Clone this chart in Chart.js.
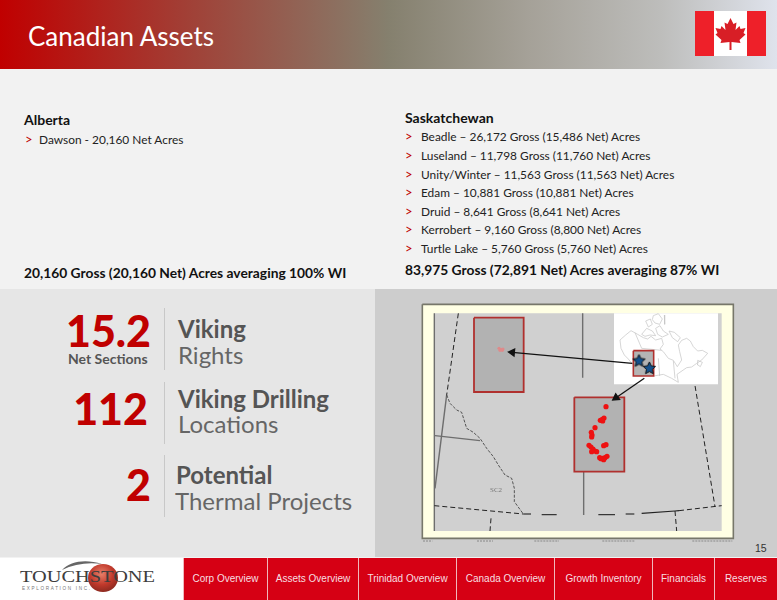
<!DOCTYPE html>
<html>
<head>
<meta charset="utf-8">
<title>Canadian Assets</title>
<script src="https://cdn.jsdelivr.net/npm/chart.js@4/dist/chart.umd.min.js"></script>
<style>
  html, body { margin: 0; padding: 0; }
  body { width: 777px; height: 600px; position: relative; overflow: hidden; background: #f2f2f2; font-family: Lato, sans-serif; }
  .t { position: absolute; white-space: nowrap; line-height: 1; }
  .box { position: absolute; }
  .head { left: 0; top: 0; width: 777px; height: 69px; background: linear-gradient(90deg, #c00000 0%, #a04238 25%, #85806e 50%, #a5a198 68%, #bdbdbb 85%, #dfe3ec 100%); }
  .b { font-weight: 700; color: #111; }
  .row { font-size: 11.9px; color: #222; }
  .gt { font-size: 13px; color: #c00000; }
  .big { font-weight: 900; color: #c00000; font-size: 43px; }
  .lab1 { font-weight: 700; color: #555; font-size: 24px; }
  .lab2 { font-weight: 400; color: #666; font-size: 24px; }
  .nav { position: absolute; top: 558px; height: 42px; background: #d60014; color: #f6dfe0; font: 10px/42px "Liberation Sans", sans-serif; text-align: center; border-left: 1px solid #f0b8bc; box-sizing: border-box; }
  #map { position: absolute; left: 415px; top: 295px; }
</style>
</head>
<body>
<div class="box head"></div>
<div class="t" style="left:28px;top:23px;font-size:26px;color:#fff;">Canadian Assets</div>
<svg class="box" style="left:695px;top:11px" width="71" height="45" viewBox="0 0 71 45">
  <rect width="71" height="45" fill="#fff"/>
  <rect width="19" height="45" fill="#ee2029"/>
  <rect x="52" width="19" height="45" fill="#ee2029"/>
  <g transform="translate(20.5,7)" fill="#d81e26"><polygon points="15,0 18,6 21,4.5 20,12 24,8 25,11 30,10 28,15 30,16.5 24,22 25,25 16,24 16,32 14,32 14,24 5,25 6,22 0,16.5 2,15 0,10 5,11 6,8 10,12 9,4.5 12,6"/></g>
</svg>

<div class="t b" style="left:24px;top:113px;font-size:14px;">Alberta</div>
<div class="t b" style="left:405px;top:111px;font-size:14px;">Saskatchewan</div>
<div id="rows"></div>
<div class="t b" style="left:24px;top:266px;font-size:13.8px;">20,160 Gross (20,160 Net) Acres averaging 100% WI</div>
<div class="t b" style="left:405px;top:263px;font-size:13.8px;">83,975 Gross (72,891 Net) Acres averaging 87% WI</div>

<div class="box" style="left:0;top:289px;width:375px;height:268px;background:#e6e6e6;"></div>
<div class="box" style="left:375px;top:289px;width:402px;height:268px;background:#cdcdcd;"></div>

<div class="box" style="left:164px;top:308px;width:1px;height:62px;background:#c8c8c8;"></div>
<div class="box" style="left:164px;top:382px;width:1px;height:62px;background:#c8c8c8;"></div>
<div class="box" style="left:164px;top:455px;width:1px;height:62px;background:#c8c8c8;"></div>

<div class="t big" style="right:626px;top:309px;">15.2</div>
<div class="t" style="left:68px;top:352px;font-size:14px;font-weight:700;color:#555;">Net Sections</div>
<div class="t big" style="right:629px;top:387px;">112</div>
<div class="t big" style="right:626px;top:463px;">2</div>
<div class="t lab1" style="left:178px;top:317px;">Viking</div>
<div class="t lab2" style="left:178px;top:343px;">Rights</div>
<div class="t lab1" style="left:178px;top:387px;">Viking Drilling</div>
<div class="t lab2" style="left:178px;top:412px;">Locations</div>
<div class="t lab1" style="left:176px;top:463px;">Potential</div>
<div class="t lab2" style="left:175px;top:489px;">Thermal Projects</div>

<canvas id="map" width="330" height="255"></canvas>
<div class="t" style="left:490px;top:486px;font:7px 'Liberation Serif',serif;color:#777;">SC2</div>
<div class="t" style="left:755px;top:542px;font:10.5px 'Liberation Sans',sans-serif;color:#333;">15</div>

<svg class="box" style="left:0;top:558px" width="183" height="42" viewBox="0 0 183 42">
  <defs><radialGradient id="ball" cx="45%" cy="35%" r="65%"><stop offset="0" stop-color="#e8806a"/><stop offset="0.6" stop-color="#c0392b"/><stop offset="1" stop-color="#8e2a20"/></radialGradient></defs>
  <rect width="183" height="42" fill="#fff"/>
  <path d="M62 12 C 70 3, 86 1, 102 6 C 88 4, 74 6, 62 12 Z" fill="#666"/>
  <ellipse cx="103" cy="20" rx="15" ry="14" fill="url(#ball)"/>
  <text x="20" y="24" font-family="Liberation Serif" font-size="17" textLength="135" lengthAdjust="spacingAndGlyphs" fill="#3d3d3d">TOUCHSTONE</text>
  <text x="22" y="32" font-family="Liberation Sans" font-size="4.6" textLength="68" fill="#777">EXPLORATION INC.</text>
</svg>
<div id="navbar"></div>

<script>
// slide text
const albertaRows = ['Dawson - 20,160 Net Acres'];
const saskRows = [
  'Beadle – 26,172 Gross (15,486 Net) Acres',
  'Luseland – 11,798 Gross (11,760 Net) Acres',
  'Unity/Winter – 11,563 Gross (11,563 Net) Acres',
  'Edam – 10,881 Gross (10,881 Net) Acres',
  'Druid – 8,641 Gross (8,641 Net) Acres',
  'Kerrobert – 9,160 Gross (8,800 Net) Acres',
  'Turtle Lake – 5,760 Gross (5,760 Net) Acres'
];
const saskRowTops = [131, 150, 169, 187, 206, 224, 243];
const navLabels = ['Corp Overview', 'Assets Overview', 'Trinidad Overview', 'Canada Overview', 'Growth Inventory', 'Financials', 'Reserves'];
const navEdges = [183, 267, 358, 456, 554, 652, 714, 777];

// map geometry, in map units (canvas is 990 x 765 units)
const frameOuter = [[22,28],[955,28],[955,730],[22,730],[22,28]];
const mapGround = [[58,55],[920,55],[920,708],[58,708],[58,55]];
const insetWhite = [[597,55],[909,55],[909,268],[597,268],[597,55]];
const albertaBox = [[177,68],[326,68],[326,291],[177,291],[177,68]];
const saskBox = [[478,307],[628,307],[628,530],[478,530],[478,307]];
const insetBox = [[655,167],[716,167],[716,243],[655,243],[655,167]];

const greyLines = [
  [[58,55],[58,708]],
  [[95,300],[60,580]],
  [[60,422],[195,437]],
  [[503,55],[503,248]],
  [[506,477],[506,660]]
];
const solidDashes = [
  [[325,657],[348,657]], [[380,659],[425,659]], [[550,659],[600,659]], [[632,657],[658,657]],
  [[680,655],[780,648]], [[780,648],[792,647]]
];
const dashedLines = [
  [[130,55],[95,300]],
  [[58,632],[325,657]],
  [[792,647],[920,632]],
  [[228,670],[225,708]],
  [[780,648],[785,708]],
  [[805,60],[900,635]]
];
const riverBorder = [[95,300],[105,325],[125,345],[140,352],[155,400],[175,412],[195,430],[215,460],[235,485],[250,510],[270,540],[290,550],[298,580],[298,620],[325,657]];

const canadaOutline = [
  [[648,107],[632,120],[615,135],[618,160],[628,180],[640,192],[652,207],[716,243],[745,238],[770,250],[790,262],[786,238],[815,218],[830,216],[845,205],[860,195],[878,175],[862,166],[848,168],[835,155],[826,138],[815,130],[800,136],[790,150],[794,170],[800,195],[787,215],[775,196],[760,190],[745,170],[735,162],[745,148],[740,130],[722,135],[708,124],[698,132],[685,128],[668,118],[648,107]],
  [[730,190],[734,243]],
  [[775,198],[780,250]],
  [[660,113],[680,160]],
  [[680,160],[740,166]],
  [[848,196],[862,202],[856,215],[846,208],[848,196]],
  [[680,118],[695,100],[712,108],[722,122],[705,120],[690,124],[680,118]],
  [[722,100],[735,92],[745,108],[760,118],[742,126],[728,118],[722,100]],
  [[715,62],[730,56],[742,72],[734,88],[720,84],[712,74],[715,62]],
  [[692,78],[706,72],[712,88],[700,96],[692,78]],
  [[762,108],[778,112],[796,128],[788,140],[772,128],[762,108]],
  [[748,60],[749,88]]
];

const arrowLines = [
  [[652,205],[292,172]],
  [[688,250],[603,308]]
];

const viewFields = [[252,160],[258,163],[264,162],[255,166],[262,166]];
const sitePoints = [
  [573,335],
  [556,376],[562,373],[567,369],[563,378],
  [540,398],
  [529,412],[531,420],[530,426],
  [522,451],[528,456],[534,462],[540,468],[530,470],[545,470],
  [566,452],[573,449],
  [554,488],[562,490],[570,488],[576,484],[566,494],[558,491]
];
const starPoints = [[672,198],[703,220]];
const captionMarks = [[[24,738],[52,738]],[[186,738],[234,738]],[[358,738],[432,738]],[[562,738],[660,738]],[[832,738],[952,738]]];

document.getElementById('rows').innerHTML =
  albertaRows.map(s => `<div class="t gt" style="left:25px;top:133px">&gt;</div><div class="t row" style="left:39px;top:134px">${s}</div>`).join('') +
  saskRows.map((s, i) => `<div class="t gt" style="left:405px;top:${saskRowTops[i] - 1}px">&gt;</div><div class="t row" style="left:421px;top:${saskRowTops[i]}px">${s}</div>`).join('');

document.getElementById('navbar').innerHTML = navLabels.map((s, i) =>
  `<div class="nav" style="left:${navEdges[i]}px;width:${navEdges[i + 1] - navEdges[i]}px">${s}</div>`).join('');

function toPts(list) {
  return list.map(p => ({ x: p[0], y: p[1] }));
}
function line(list, color, width, dash) {
  return { data: toPts(list), showLine: true, borderColor: color, borderWidth: width, borderDash: dash || [], pointRadius: 0, tension: 0, fill: false };
}
function area(list, fillColor, color, width) {
  return { data: toPts(list), showLine: true, backgroundColor: fillColor, borderColor: color, borderWidth: width, pointRadius: 0, tension: 0, fill: 'shape', borderJoinStyle: 'miter' };
}

function starImage(size) {
  const c = document.createElement('canvas');
  c.width = c.height = size;
  const g = c.getContext('2d');
  const m = size / 2;
  g.beginPath();
  for (let i = 0; i < 10; i++) {
    const r = i % 2 ? m * 0.42 : m - 1;
    const a = -Math.PI / 2 + i * Math.PI / 5;
    g[i ? 'lineTo' : 'moveTo'](m + r * Math.cos(a), m + r * Math.sin(a));
  }
  g.closePath();
  g.fillStyle = '#14508c';
  g.strokeStyle = '#111';
  g.lineWidth = 1;
  g.fill();
  g.stroke();
  return c;
}

function arrow(list) {
  const a = list[0], b = list[1];
  const deg = Math.atan2(b[1] - a[1], b[0] - a[0]) * 180 / Math.PI + 90;
  const ds = line(list, '#111', 1.3);
  ds.pointStyle = 'triangle';
  ds.pointRotation = deg;
  ds.pointRadius = ctx => ctx.dataIndex === 1 ? 4 : 0;
  ds.pointBackgroundColor = '#111';
  ds.pointBorderColor = '#111';
  return ds;
}

// bottom layer first, flipped below because Chart.js paints dataset 0 last
const layers = [
  area(frameOuter, '#ffffe4', '#77776a', 1.6),
  area(mapGround, '#d0d0d0', '#d0d0d0', 0),
  ...greyLines.map(l => line(l, '#6e6e6e', 1.4)),
  ...solidDashes.map(l => line(l, '#222', 1.1)),
  ...dashedLines.map(l => line(l, '#222', 1, [5, 3])),
  line(riverBorder, '#333', 0.8, [3, 1.5]),
  ...captionMarks.map(l => line(l, '#888', 1, [2, 1])),
  area(insetWhite, '#ffffff', '#ffffff', 0),
  ...canadaOutline.map(l => line(l, '#c4c4c4', 0.7)),
  area(albertaBox, '#b2b2b2', '#b0302e', 1.8),
  area(saskBox, '#b2b2b2', '#b0302e', 1.8),
  area(insetBox, '#b4b4b4', '#b0302e', 1.6),
  { data: toPts(viewFields), pointRadius: 1.6, pointBackgroundColor: '#de8a8a', pointBorderWidth: 0 },
  { data: toPts(sitePoints), pointRadius: 2.6, pointBackgroundColor: '#ee1111', pointBorderWidth: 0 },
  ...arrowLines.map(arrow),
  { data: toPts(starPoints), pointStyle: starImage(15) }
];

new Chart(document.getElementById('map'), {
  type: 'scatter',
  data: { datasets: layers.reverse() },
  options: {
    responsive: false,
    animation: false,
    layout: { padding: 0, autoPadding: false },
    plugins: { legend: { display: false }, tooltip: { enabled: false } },
    scales: {
      x: { type: 'linear', display: false, min: 0, max: 990 },
      y: { type: 'linear', display: false, min: 0, max: 765, reverse: true }
    }
  }
});
</script>
</body>
</html>
